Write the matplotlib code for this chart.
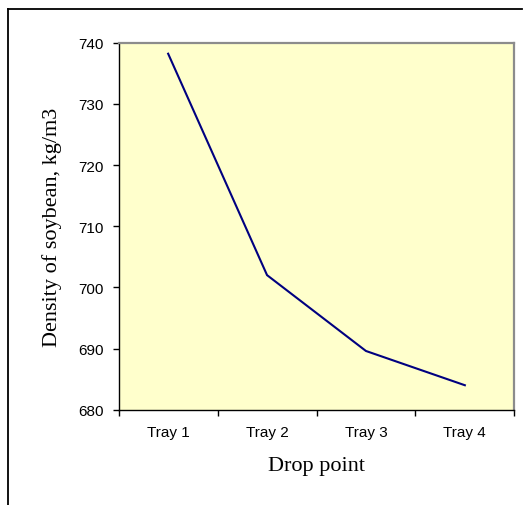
import matplotlib
matplotlib.use('Agg')
import matplotlib.pyplot as plt
from matplotlib.lines import Line2D
import numpy as np

# --- data ---
trays = ['Tray 1', 'Tray 2', 'Tray 3', 'Tray 4']
density = [738.2, 702.0, 689.6, 684.0]
y_ticks = [680, 690, 700, 710, 720, 730, 740]

W, H = 527, 506
fig = plt.figure(figsize=(W / 100, H / 100), dpi=100)

# axes box in pixel terms: left 118.7, right 514.3, top 43.7, bottom 410.7
ax = fig.add_axes([118.7 / W, (H - 410.7) / H, 395.6 / W, 367.0 / H])
ax.set_facecolor('#FFFFCC')

xpos = np.arange(len(trays)) + 0.5
ax.plot(xpos, density, color='#000080', linewidth=1.5, solid_joinstyle='miter')

ax.set_xlim(0, len(trays))
ax.set_ylim(680, 740)
ax.set_yticks(y_ticks)
ax.set_yticklabels([str(v) for v in y_ticks])

# category ticks sit between categories, labels centred
ax.set_xticks(np.arange(len(trays) + 1))
ax.set_xticklabels([])
ax.set_xticks(xpos, minor=True)
ax.set_xticklabels(trays, minor=True)
ax.tick_params(axis='x', which='minor', length=0, pad=11)
ax.tick_params(axis='x', which='major', length=4, width=1, direction='out')
ax.tick_params(axis='y', length=4, width=1, direction='out', pad=7)

tick_family = ['Liberation Sans', 'DejaVu Sans']
for lab in ax.get_yticklabels() + ax.get_xticklabels(minor=True):
    lab.set_fontfamily(tick_family)
    lab.set_fontsize(11)

for side in ('top', 'right'):
    ax.spines[side].set_color('#8C8C8C')
    ax.spines[side].set_linewidth(1.6)
for side in ('left', 'bottom'):
    ax.spines[side].set_color('black')
    ax.spines[side].set_linewidth(1.0)

label_font = dict(family=['Liberation Serif', 'DejaVu Serif'], size=16)
fig.text(316 / W, 1 - 467 / H, 'Drop point', ha='center', va='center', **label_font)
fig.text(52 / W, 1 - 227 / H, 'Density of soybean, kg/m3', ha='center', va='center',
         rotation=90, **label_font)

# outer chart frame (cropped at the bottom and right in the source)
fig.add_artist(Line2D([8 / W, 522 / W], [1 - 10 / H, 1 - 10 / H],
                      color='black', linewidth=1.3, transform=fig.transFigure))
fig.add_artist(Line2D([8 / W, 8 / W], [1 - 10 / H, 0],
                      color='black', linewidth=1.3, transform=fig.transFigure))

fig.savefig('out.png', dpi=100)
plt.close('all')
